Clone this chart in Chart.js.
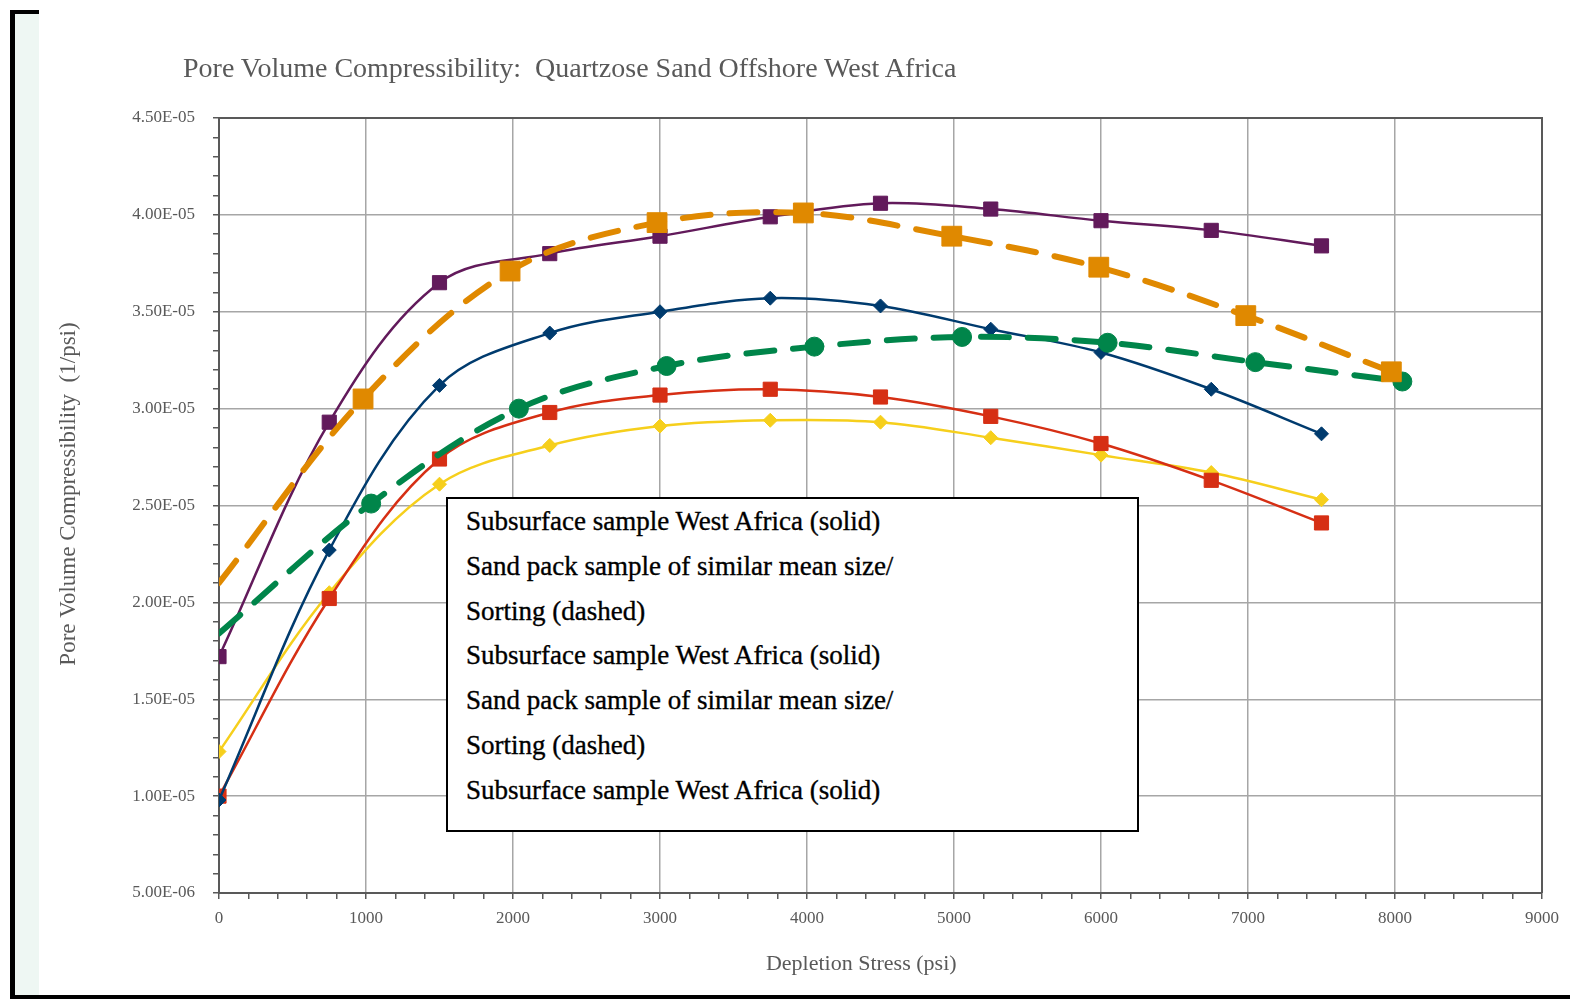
<!DOCTYPE html>
<html>
<head>
<meta charset="utf-8">
<script src="https://cdn.jsdelivr.net/npm/chart.js@4.4.1/dist/chart.umd.min.js"></script>
<style>
    html, body { margin: 0; padding: 0; background: #fff; }
    body { width: 1570px; height: 999px; position: relative; overflow: hidden; font-family: 'Liberation Serif', serif; }
    .bar { position: absolute; background: #000; }
    #mint { position: absolute; left: 15px; top: 14px; width: 24px; height: 981px; background: #eef7f3; }
    #chart { position: absolute; left: 0; top: 0; }
    #title { position: absolute; left: 183px; top: 51px; font-size: 28px; line-height: 34px; color: #595959; white-space: pre; }
    #legendBox {
        position: absolute; left: 446px; top: 497px; width: 693px; height: 335px;
        box-sizing: border-box; border: 2px solid #000; background: #fff;
        padding: 0 0 0 18px; font-size: 27px; line-height: 44.8px; color: #000;
        -webkit-text-stroke: 0.35px #000;
    }
</style>
</head>
<body>
<div id="mint"></div>
<div class="bar" style="left:10px;top:10px;width:5px;height:989px"></div>
<div class="bar" style="left:10px;top:10px;width:29px;height:4px"></div>
<div class="bar" style="left:10px;top:995px;width:1560px;height:4px"></div>
<canvas id="chart" width="1570" height="999"></canvas>
<div id="title">Pore Volume Compressibility:  Quartzose Sand Offshore West Africa</div>
<div id="legendBox">
    <div>Subsurface sample West Africa (solid)</div>
    <div>Sand pack sample of similar mean size/</div>
    <div>Sorting (dashed)</div>
    <div>Subsurface sample West Africa (solid)</div>
    <div>Sand pack sample of similar mean size/</div>
    <div>Sorting (dashed)</div>
    <div>Subsurface sample West Africa (solid)</div>
</div>
<script>
// stress values (psi)
const stressSolid = [0, 750, 1500, 2250, 3000, 3750, 4500, 5250, 6000, 6750, 7500];
const stressOrange = [0, 980, 1980, 2980, 3975, 4985, 5985, 6985, 7975];
const stressGreen = [0, 1035, 2040, 3045, 4050, 5055, 6045, 7050, 8050];

// compressibility (1/psi)
const purpleVals = [1.72e-5, 2.93e-5, 3.65e-5, 3.80e-5, 3.89e-5, 3.99e-5, 4.06e-5, 4.03e-5, 3.97e-5, 3.92e-5, 3.84e-5];
const navyVals = [0.98e-5, 2.27e-5, 3.12e-5, 3.39e-5, 3.50e-5, 3.57e-5, 3.53e-5, 3.41e-5, 3.29e-5, 3.10e-5, 2.87e-5];
const redVals = [1.00e-5, 2.02e-5, 2.74e-5, 2.98e-5, 3.07e-5, 3.10e-5, 3.06e-5, 2.96e-5, 2.82e-5, 2.63e-5, 2.41e-5];
const yellowVals = [1.23e-5, 2.05e-5, 2.61e-5, 2.81e-5, 2.91e-5, 2.94e-5, 2.93e-5, 2.85e-5, 2.76e-5, 2.67e-5, 2.53e-5];
const orangeVals = [2.10e-5, 3.05e-5, 3.71e-5, 3.96e-5, 4.01e-5, 3.89e-5, 3.73e-5, 3.48e-5, 3.19e-5];
const greenVals = [1.84e-5, 2.51e-5, 3.00e-5, 3.22e-5, 3.32e-5, 3.37e-5, 3.34e-5, 3.24e-5, 3.14e-5];

// axis ticks
const yMin = 5e-6, yMax = 4.5e-5, yMinorStep = 1e-6, yMajorEvery = 5;
const xMin = 0, xMax = 9000, xMinorStep = 200, xMajorStep = 1000;

const textGrey = '#595959';
const gridGrey = '#a6a6a6';
const nb = '\u00a0';

const pts = (xs, ys) => xs.map((x, i) => ({ x: x, y: ys[i] }));

function isMajorY(v) {
    return Math.round(v / yMinorStep) % yMajorEvery === 0;
}

function sciLabel(v) {
    const parts = v.toExponential(2).split('e');
    const e = parseInt(parts[1], 10);
    const sign = e < 0 ? '-' : '+';
    return parts[0] + 'E' + sign + String(Math.abs(e)).padStart(2, '0');
}

function solidSet(data, color, shape, radius) {
    return {
        data: data, borderColor: color, backgroundColor: color,
        borderWidth: 2.5, tension: 0.35,
        pointStyle: shape, pointRadius: radius, pointHoverRadius: radius,
        pointBackgroundColor: color, pointBorderColor: color, pointBorderWidth: 1
    };
}

function dashedSet(data, color, shape, radius) {
    const radii = data.map((p, i) => i === 0 ? 0 : radius);
    return {
        data: data, borderColor: color, backgroundColor: color,
        borderWidth: 6, borderDash: [28, 19], borderCapStyle: 'round', tension: 0.35,
        pointStyle: shape, pointRadius: radii, pointHoverRadius: radii,
        pointBackgroundColor: color, pointBorderColor: color, pointBorderWidth: 1
    };
}

// top and right edges of the plot frame
const frameEdges = {
    id: 'frameEdges',
    beforeDatasetsDraw(chart) {
        const { ctx, chartArea: a } = chart;
        ctx.save();
        ctx.strokeStyle = textGrey;
        ctx.lineWidth = 2;
        ctx.beginPath();
        ctx.moveTo(a.left, a.top);
        ctx.lineTo(a.right, a.top);
        ctx.lineTo(a.right, a.bottom);
        ctx.stroke();
        ctx.restore();
    }
};

Chart.defaults.font.family = "'Liberation Serif', serif";
Chart.defaults.color = textGrey;

new Chart(document.getElementById('chart'), {
    type: 'line',
    data: {
        datasets: [
            dashedSet(pts(stressOrange, orangeVals), '#e08900', 'rect', 14),
            dashedSet(pts(stressGreen, greenVals), '#00854a', 'circle', 9.5),
            solidSet(pts(stressSolid, purpleVals), '#621a5b', 'rect', 10),
            solidSet(pts(stressSolid, navyVals), '#003b6e', 'rectRot', 7),
            solidSet(pts(stressSolid, redVals), '#d62f14', 'rect', 10),
            solidSet(pts(stressSolid, yellowVals), '#f6cf1c', 'rectRot', 7)
        ]
    },
    options: {
        responsive: false,
        animation: false,
        devicePixelRatio: 1,
        layout: { padding: { left: 40, right: 28, top: 118, bottom: 0 } },
        plugins: {
            legend: { display: false },
            tooltip: { enabled: false }
        },
        scales: {
            x: {
                type: 'linear', min: xMin, max: xMax,
                afterFit(scale) { scale.height = 106; },
                ticks: {
                    stepSize: xMinorStep, autoSkip: false, maxRotation: 0, padding: 9,
                    font: { size: 17 }, color: textGrey,
                    callback: v => (v % xMajorStep === 0 ? String(v) : '')
                },
                grid: {
                    color: ctx => (ctx.tick && ctx.tick.value % xMajorStep === 0 ? gridGrey : 'rgba(0,0,0,0)'),
                    tickColor: textGrey, tickLength: 6, lineWidth: 1.5
                },
                border: { color: textGrey, width: 2 },
                title: {
                    display: true, text: 'Depletion Stress (psi)' + nb.repeat(7), color: textGrey,
                    font: { size: 22 }, padding: { top: 22, bottom: 22 }
                }
            },
            y: {
                type: 'linear', min: yMin, max: yMax,
                afterFit(scale) { scale.width = 179; },
                ticks: {
                    stepSize: yMinorStep, autoSkip: false, padding: 18,
                    font: { size: 17 }, color: textGrey,
                    callback: v => (isMajorY(v) ? sciLabel(v) : '')
                },
                grid: {
                    color: ctx => (ctx.tick && isMajorY(ctx.tick.value) ? gridGrey : 'rgba(0,0,0,0)'),
                    tickColor: textGrey, tickLength: 6, lineWidth: 1.5
                },
                border: { color: textGrey, width: 2 },
                title: {
                    display: true, text: nb.repeat(4) + 'Pore Volume Compressibility  (1/psi)', color: textGrey,
                    font: { size: 23 }, padding: { top: 15, bottom: 15 }
                }
            }
        }
    },
    plugins: [frameEdges]
});
</script>
</body>
</html>
